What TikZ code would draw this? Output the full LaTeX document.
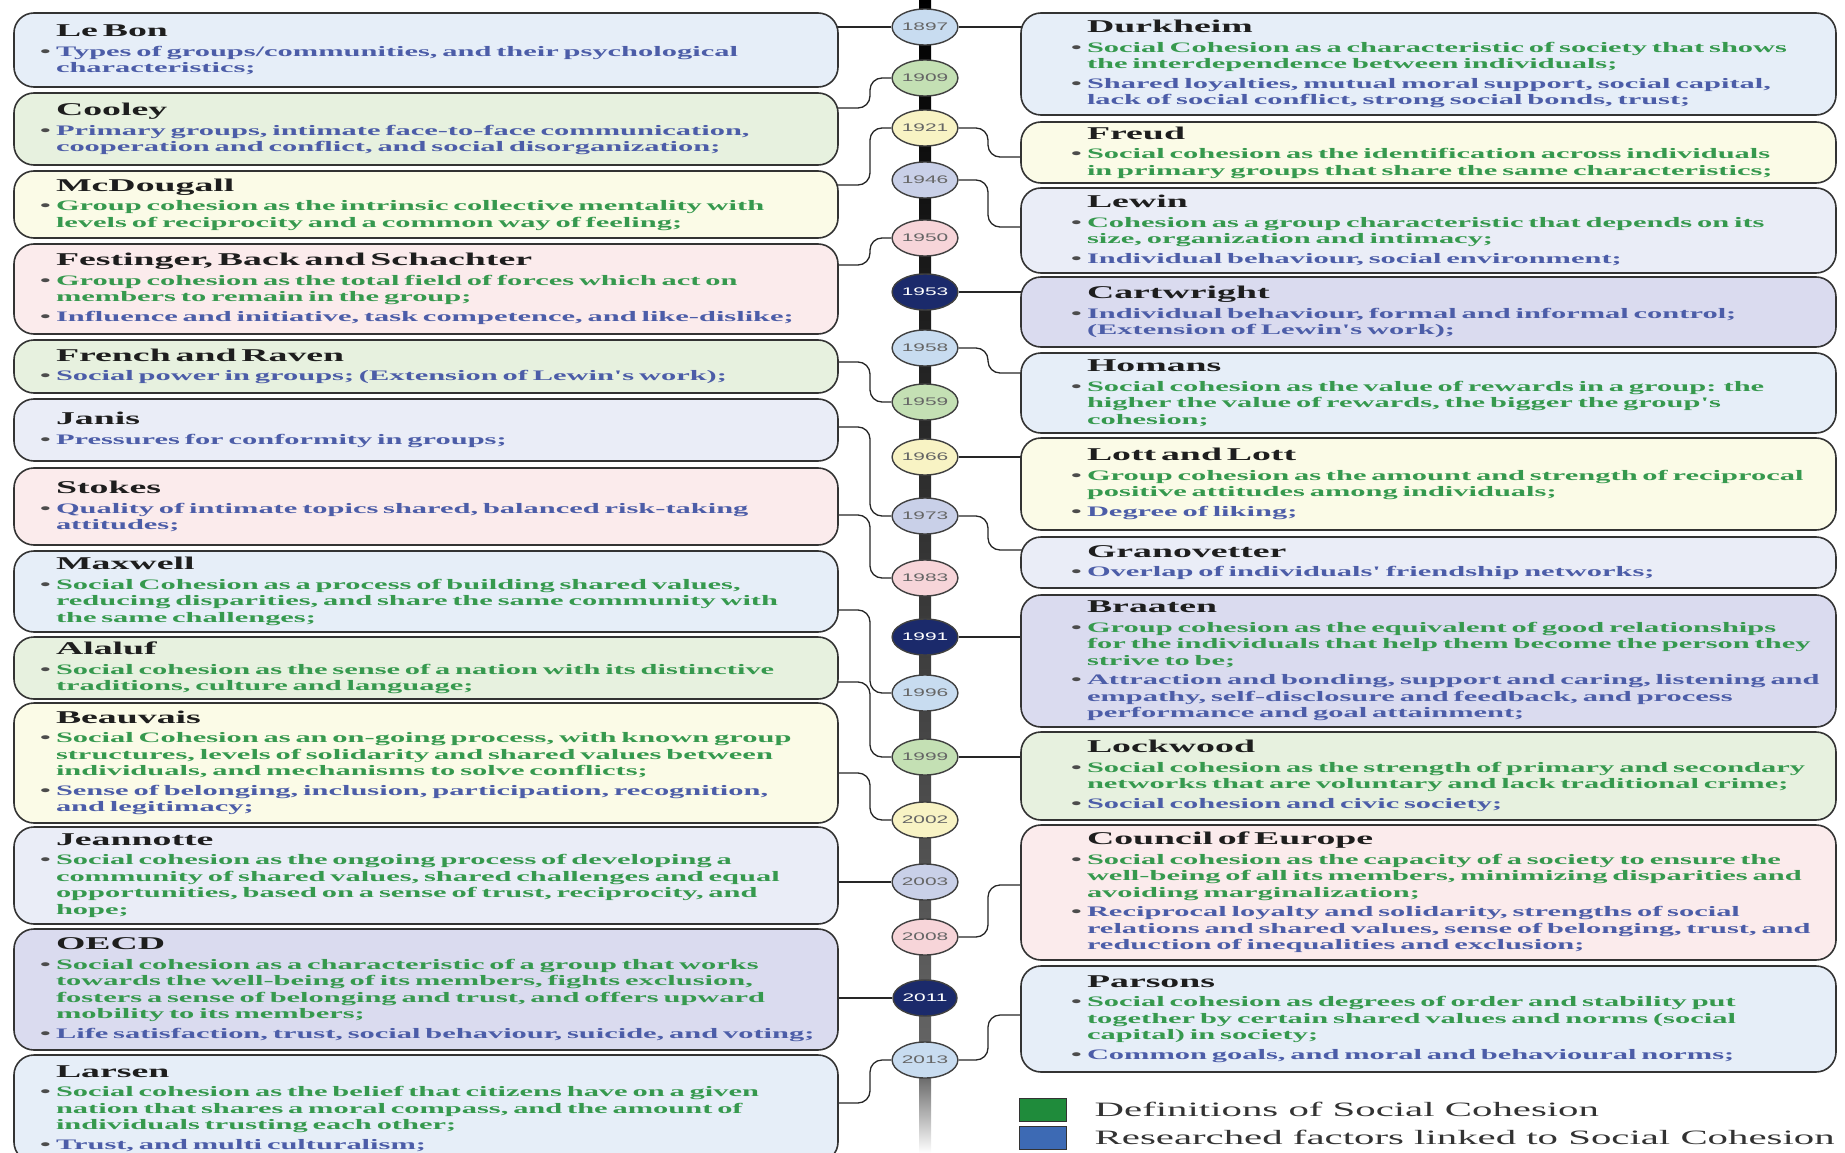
\documentclass[tikz,border=0pt]{standalone}
\usepackage{fontspec}
\usepackage{xcolor}
\usepackage{tikz}
\usetikzlibrary{positioning, backgrounds, shapes.geometric}
\newfontfamily\boxfont[FakeStretch=2.1]{Liberation Serif}
\newfontfamily\keyfont[FakeStretch=2.0]{Liberation Serif}
\newfontfamily\yearfont[FakeStretch=1.9]{Liberation Sans}
\definecolor{defgreen}{HTML}{36994E}
\definecolor{facblue}{HTML}{4C5DA8}
\definecolor{ttl}{HTML}{1E1E1E}
\definecolor{boxblue}{HTML}{E6EEF8}
\definecolor{boxgreen}{HTML}{E7F1DF}
\definecolor{boxyellow}{HTML}{FBFBE7}
\definecolor{boxlav}{HTML}{EAEDF7}
\definecolor{boxpink}{HTML}{FBEBEC}
\definecolor{boxnavy}{HTML}{DADBEF}
\definecolor{dotblue}{HTML}{C8DCF0}
\definecolor{dotgreen}{HTML}{C4E0B4}
\definecolor{dotyellow}{HTML}{F8F3C4}
\definecolor{dotlav}{HTML}{C9D0E8}
\definecolor{dotpink}{HTML}{F7D5D9}
\definecolor{dotnavy}{HTML}{1B2A6B}
\definecolor{keygreen}{HTML}{1F8B3B}
\definecolor{keyblue}{HTML}{3D6AB4}
\newcommand\who[1]{\hspace*{16pt}{\fontsize{18}{19}\selectfont\color{ttl}#1}\par}
\newcommand\pnt[2]{\vspace{3pt}{\let\\\newline\hangindent=16pt\hangafter=1\noindent\color{#1}\makebox[16pt][l]{\textcolor{black!70}{\textbullet}}#2\par}}
\newcommand\dfn{\pnt{defgreen}}
\newcommand\fct{\pnt{facblue}}
\tikzset{
  card/.style={draw=black!80, line width=1.6pt, rounded corners=20pt, inner xsep=0pt, inner ysep=2pt,
               align=left, font=\boxfont\bfseries\fontsize{14.5}{16.5}\selectfont},
  lcard/.style={card, minimum width=824pt, text width=824pt,
                execute at begin node={\leftskip=26pt\rightskip=-40pt plus 1fil}},
  rcard/.style={card, minimum width=815pt, text width=815pt,
                execute at begin node={\leftskip=50pt\rightskip=-40pt plus 1fil}},
  yeardot/.style={ellipse, draw=black!75, line width=1.4pt, minimum width=64pt, minimum height=36pt,
                  inner sep=0pt, font=\yearfont\fontsize{11}{11}\selectfont, text=black!60},
  tone navy/.style={text=white},
  link/.style={draw=black!85, line width=1.3pt, rounded corners=12pt},
  key/.style={draw=black!80, line width=1pt, minimum width=47pt, minimum height=23pt, inner sep=0pt},
  keytext/.style={anchor=west, inner sep=0pt, font=\keyfont\fontsize{20.4}{22}\selectfont, text=black!80},
}
\begin{document}
\begin{tikzpicture}[x=1pt, y=-1pt]
  \useasboundingbox (0,0) rectangle (1845,1153);

  \node[lcard, fill=boxblue, minimum height=74pt] (lebon) at (426,50) {\who{Le Bon}
    \fct{Types of groups/communities, and their psychological\\characteristics;}};
  \node[lcard, fill=boxgreen, minimum height=72pt] (cooley) at (426,129) {\who{Cooley}
    \fct{Primary groups, intimate face-to-face communication,\\cooperation and conflict, and social disorganization;}};
  \node[lcard, fill=boxyellow, minimum height=67pt] (mcdougall) at (426,204.5) {\who{McDougall}
    \dfn{Group cohesion as the intrinsic collective mentality with\\levels of reciprocity and a common way of feeling;}};
  \node[lcard, fill=boxpink, minimum height=90pt] (festinger) at (426,289) {\who{Festinger, Back and Schachter}
    \dfn{Group cohesion as the total field of forces which act on\\members to remain in the group;}
    \fct{Influence and initiative, task competence, and like-dislike;}};
  \node[lcard, fill=boxgreen, minimum height=53pt] (french) at (426,366.5) {\who{French and Raven}
    \fct{Social power in groups; (Extension of Lewin's work);}};
  \node[lcard, fill=boxlav, minimum height=62pt] (janis) at (426,430) {\who{Janis}
    \fct{Pressures for conformity in groups;}};
  \node[lcard, fill=boxpink, minimum height=77pt] (stokes) at (426,506.5) {\who{Stokes}
    \fct{Quality of intimate topics shared, balanced risk-taking\\attitudes;}};
  \node[lcard, fill=boxblue, minimum height=81pt] (maxwell) at (426,591.5) {\who{Maxwell}
    \dfn{Social Cohesion as a process of building shared values,\\reducing disparities, and share the same community with\\the same challenges;}};
  \node[lcard, fill=boxgreen, minimum height=62pt] (alaluf) at (426,668) {\who{Alaluf}
    \dfn{Social cohesion as the sense of a nation with its distinctive\\traditions, culture and language;}};
  \node[lcard, fill=boxyellow, minimum height=120pt] (beauvais) at (426,763) {\who{Beauvais}
    \dfn{Social Cohesion as an on-going process, with known group\\structures, levels of solidarity and shared values between\\individuals, and mechanisms to solve conflicts;}
    \fct{Sense of belonging, inclusion, participation, recognition,\\and legitimacy;}};
  \node[lcard, fill=boxlav, minimum height=97pt] (jeannotte) at (426,875.5) {\who{Jeannotte}
    \dfn{Social cohesion as the ongoing process of developing a\\community of shared values, shared challenges and equal\\opportunities, based on a sense of trust, reciprocity, and\\hope;}};
  \node[lcard, fill=boxnavy, minimum height=121pt] (oecd) at (426,989.5) {\who{OECD}
    \dfn{Social cohesion as a characteristic of a group that works\\towards the well-being of its members, fights exclusion,\\fosters a sense of belonging and trust, and offers upward\\mobility to its members;}
    \fct{Life satisfaction, trust, social behaviour, suicide, and voting;}};
  \node[lcard, fill=boxblue, minimum height=107pt] (larsen) at (426,1108.5) {\who{Larsen}
    \dfn{Social cohesion as the belief that citizens have on a given\\nation that shares a moral compass, and the amount of\\individuals trusting each other;}
    \fct{Trust, and multi culturalism;}};

  \node[rcard, fill=boxblue, minimum height=102pt] (durkheim) at (1428.5,64) {\who{Durkheim}
    \dfn{Social Cohesion as a characteristic of society that shows\\the interdependence between individuals;}
    \fct{Shared loyalties, mutual moral support, social capital,\\lack of social conflict, strong social bonds, trust;}};
  \node[rcard, fill=boxyellow, minimum height=61pt] (freud) at (1428.5,152.5) {\who{Freud}
    \dfn{Social cohesion as the identification across individuals\\in primary groups that share the same characteristics;}};
  \node[rcard, fill=boxlav, minimum height=85pt] (lewin) at (1428.5,230.5) {\who{Lewin}
    \dfn{Cohesion as a group characteristic that depends on its\\size, organization and intimacy;}
    \fct{Individual behaviour, social environment;}};
  \node[rcard, fill=boxnavy, minimum height=70pt] (cartwright) at (1428.5,312) {\who{Cartwright}
    \fct{Individual behaviour, formal and informal control;\\(Extension of Lewin's work);}};
  \node[rcard, fill=boxblue, minimum height=80pt] (homans) at (1428.5,393) {\who{Homans}
    \dfn{Social cohesion as the value of rewards in a group: the\\higher the value of rewards, the bigger the group's\\cohesion;}};
  \node[rcard, fill=boxyellow, minimum height=92pt] (lott) at (1428.5,484) {\who{Lott and Lott}
    \dfn{Group cohesion as the amount and strength of reciprocal\\positive attitudes among individuals;}
    \fct{Degree of liking;}};
  \node[rcard, fill=boxlav, minimum height=51pt] (granovetter) at (1428.5,562.5) {\who{Granovetter}
    \fct{Overlap of individuals' friendship networks;}};
  \node[rcard, fill=boxnavy, minimum height=132pt] (braaten) at (1428.5,661) {\who{Braaten}
    \dfn{Group cohesion as the equivalent of good relationships\\for the individuals that help them become the person they\\strive to be;}
    \fct{Attraction and bonding, support and caring, listening and\\empathy, self-disclosure and feedback, and process\\performance and goal attainment;}};
  \node[rcard, fill=boxgreen, minimum height=88pt] (lockwood) at (1428.5,776) {\who{Lockwood}
    \dfn{Social cohesion as the strength of primary and secondary\\networks that are voluntary and lack traditional crime;}
    \fct{Social cohesion and civic society;}};
  \node[rcard, fill=boxpink, minimum height=135pt] (council) at (1428.5,892.5) {\who{Council of Europe}
    \dfn{Social cohesion as the capacity of a society to ensure the\\well-being of all its members, minimizing disparities and\\avoiding marginalization;}
    \fct{Reciprocal loyalty and solidarity, strengths of social\\relations and shared values, sense of belonging, trust, and\\reduction of inequalities and exclusion;}};
  \node[rcard, fill=boxblue, minimum height=106pt] (parsons) at (1428.5,1019) {\who{Parsons}
    \dfn{Social cohesion as degrees of order and stability put\\together by certain shared values and norms (social\\capital) in society;}
    \fct{Common goals, and moral and behavioural norms;}};

  \foreach \yr/\yy/\tone in {1897/27/blue, 1909/78/green, 1921/128/yellow, 1946/180/lav, 1950/238/pink,
      1953/292/navy, 1958/348/blue, 1959/402/green, 1966/457/yellow, 1973/516/lav, 1983/578/pink,
      1991/637/navy, 1996/693/blue, 1999/757/green, 2002/820/yellow, 2003/882/lav, 2008/937/pink,
      2011/998/navy, 2013/1060/blue}
    \node[yeardot, fill=dot\tone, tone \tone/.try] (y\yr) at (925,\yy) {\yr};

  \begin{scope}[on background layer]
    \shade[top color=black, bottom color=black!60] (919,-2) rectangle (931,1075);
    \shade[top color=black!60, bottom color=white] (919,1075) rectangle (931,1153);
    \foreach \yr/\card in {1897/lebon, 2003/jeannotte, 2011/oecd, 1897/durkheim, 1953/cartwright,
        1966/lott, 1991/braaten, 1999/lockwood}
      \draw[link] (y\yr) -- (\card |- y\yr);
    \foreach \yr/\card/\yc in {1909/cooley/108, 1921/mcdougall/185, 1950/festinger/265, 1959/french/362,
        1973/janis/427, 1983/stokes/515, 1996/maxwell/610, 1999/alaluf/682, 2002/beauvais/773, 2013/larsen/1103}
      \draw[link] (y\yr) -| (870,\yc) -- (\card |- 0,\yc);
    \foreach \yr/\card/\yc in {1921/freud/157, 1946/lewin/227, 1958/homans/373, 1973/granovetter/550,
        2008/council/885, 2013/parsons/1015}
      \draw[link] (y\yr) -| (988,\yc) -- (\card |- 0,\yc);
  \end{scope}

  \node[key, fill=keygreen] (keydef) at (1042.5,1109.5) {};
  \node[key, fill=keyblue, below=4pt of keydef] (keyfac) {};
  \node[keytext, right=28pt of keydef] (labdef) {Definitions of Social Cohesion};
  \node[keytext, right=28pt of keyfac] (labfac) {Researched factors linked to Social Cohesion};
\end{tikzpicture}
\end{document}
